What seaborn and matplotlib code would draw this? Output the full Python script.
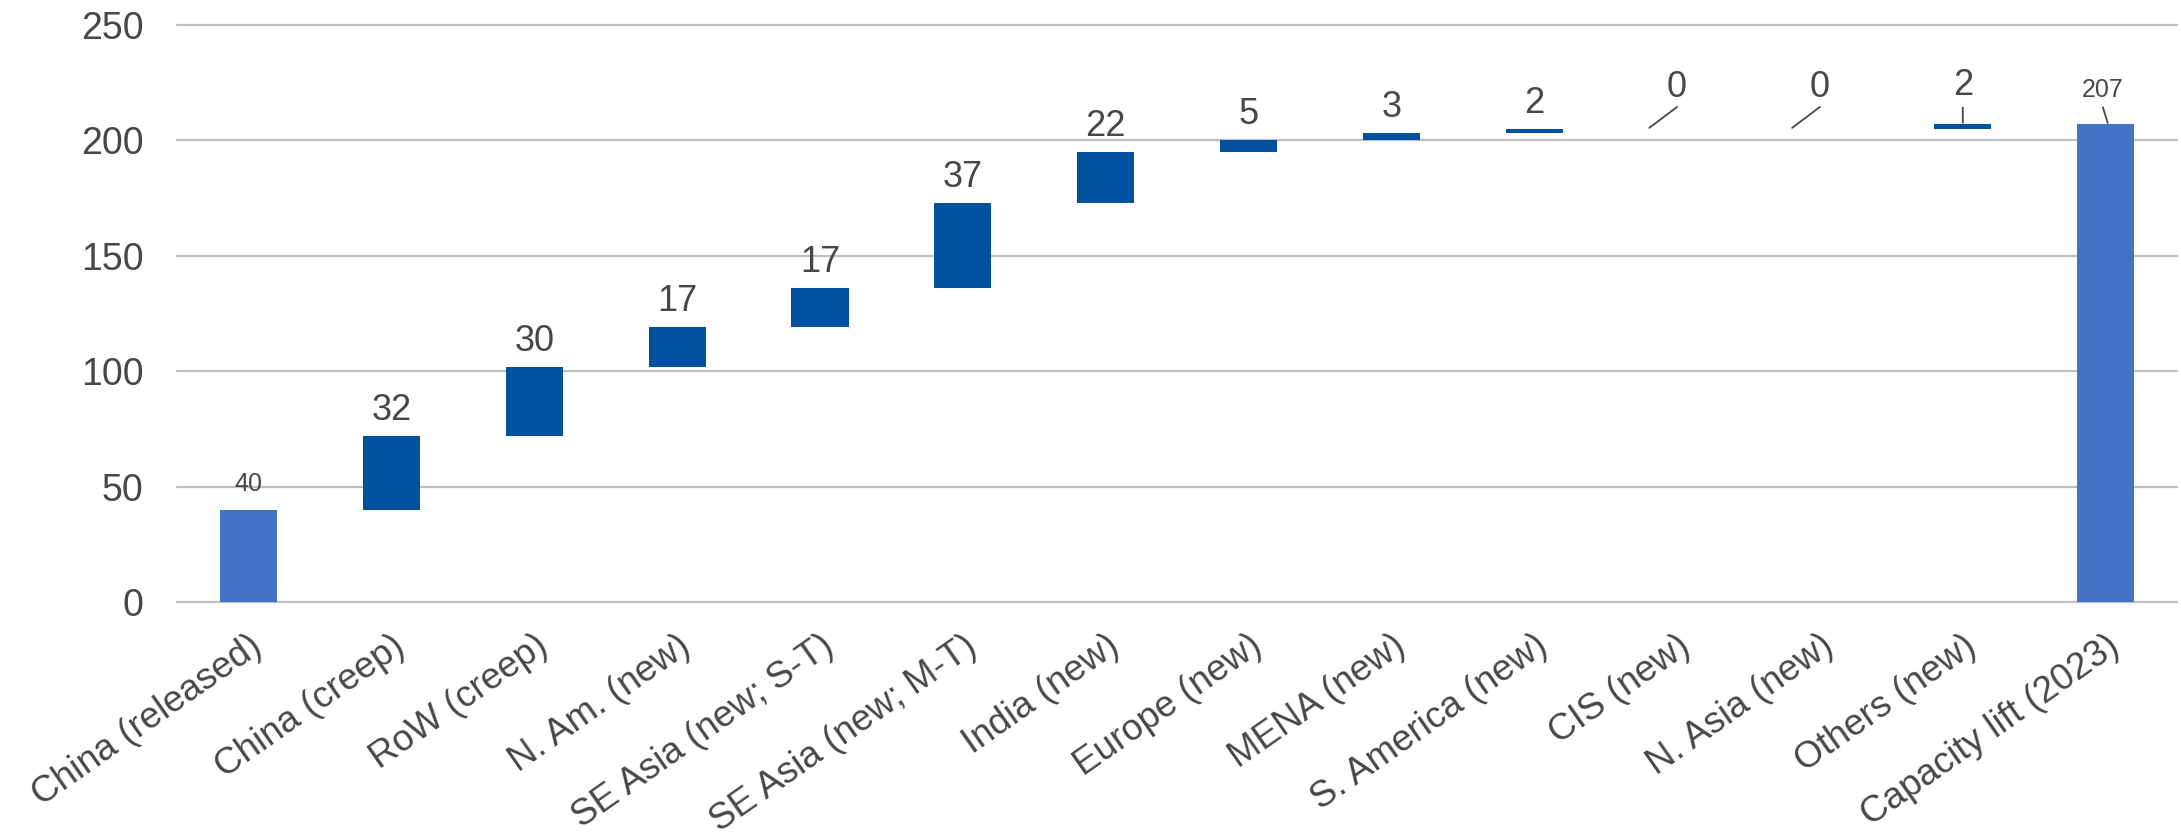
import matplotlib
matplotlib.use("Agg")
import matplotlib.pyplot as plt
from matplotlib.transforms import offset_copy
import numpy as np
import pandas as pd
import seaborn as sns

# Capacity build-up by source (waterfall)
categories = ["China (released)", "China (creep)", "RoW (creep)", "N. Am. (new)",
              "SE Asia (new; S-T)", "SE Asia (new; M-T)", "India (new)", "Europe (new)",
              "MENA (new)", "S. America (new)", "CIS (new)", "N. Asia (new)",
              "Others (new)", "Capacity lift (2023)"]
changes = [40, 32, 30, 17, 17, 37, 22, 5, 3, 2, 0, 0, 2, 207]
kinds = ["total"] + ["step"] * 12 + ["total"]
y_ticks = [0, 50, 100, 150, 200, 250]

TOTAL_COLOR = "#4472C4"
STEP_COLOR = "#0052A0"
TEXT_COLOR = "#474747"
GRID_COLOR = "#BFBFBF"

# floating bar bases: totals start at zero, steps start at the running sum
bases = []
running = 0
for v, k in zip(changes, kinds):
    if k == "total":
        bases.append(0)
        running = v
    else:
        bases.append(running)
        running += v
tops = [b + v for b, v in zip(bases, changes)]

sns.set_theme(style="white")
plt.rcParams["font.family"] = ["Liberation Sans", "DejaVu Sans"]

fig = plt.figure(figsize=(21.81, 8.33), dpi=100)
ax = fig.add_axes([0.0812, 0.2773, 0.917, 0.6927])

df = pd.DataFrame({"category": categories, "change": changes, "base": bases})
sns.barplot(data=df, x="category", y="change", order=categories,
            bottom=np.array(bases, dtype=float), color=STEP_COLOR, saturation=1,
            width=0.4, errorbar=None, linewidth=0, ax=ax, zorder=3)
for patch, k in zip(ax.patches, kinds):
    if k == "total":
        patch.set_facecolor(TOTAL_COLOR)

ax.set_xlim(-0.5, len(categories) - 0.5)
ax.set_ylim(0, 250)
ax.set_yticks(y_ticks)
for t in y_ticks:
    ax.axhline(t, color=GRID_COLOR, linewidth=1.6, zorder=1, clip_on=False)
for s in ax.spines.values():
    s.set_visible(False)

ax.set_xlabel("")
ax.set_ylabel("")
ax.tick_params(axis="y", length=0, pad=24, labelsize=27, labelcolor=TEXT_COLOR)
ax.tick_params(axis="x", length=0, pad=19, labelsize=26.5, labelcolor=TEXT_COLOR)
ax.set_xticks(range(len(categories)))
ax.set_xticklabels(categories, rotation=35, ha="right", rotation_mode="anchor")


def at(x, y, dx, dy):
    """Data point shifted by (dx, dy) points."""
    return offset_copy(ax.transData, fig=fig, x=dx, y=dy, units="points")


def leader(i, top, start, end):
    ax.annotate("", xy=(i, top), xycoords=at(i, top, *start),
                xytext=(i, top), textcoords=at(i, top, *end),
                arrowprops=dict(arrowstyle="-", color=TEXT_COLOR, lw=1.3,
                                shrinkA=0, shrinkB=0))


STEP_FS = 26
TOTAL_FS = 18
for i, (v, top, k) in enumerate(zip(changes, tops, kinds)):
    if k == "total" and i == 0:
        ax.annotate(str(v), xy=(i, top), xytext=(0, 13.5), textcoords="offset points",
                    ha="center", va="baseline", fontsize=TOTAL_FS, color=TEXT_COLOR)
    elif k == "total":
        ax.annotate(str(v), xy=(i, top), xytext=(-2, 19.5), textcoords="offset points",
                    ha="center", va="baseline", fontsize=TOTAL_FS, color=TEXT_COLOR)
        leader(i, top, (1.5, 0.9), (-2, 12.2))
    elif v == 0:
        ax.annotate(str(v), xy=(i, top), xytext=(0, 23), textcoords="offset points",
                    ha="center", va="baseline", fontsize=STEP_FS, color=TEXT_COLOR)
        leader(i, top, (-20, 0.7), (0, 15.8))
    elif categories[i].startswith("Others"):
        ax.annotate(str(v), xy=(i, top), xytext=(0, 21.3), textcoords="offset points",
                    ha="center", va="baseline", fontsize=STEP_FS, color=TEXT_COLOR)
        leader(i, top, (0, 1.1), (0, 12))
    else:
        ax.annotate(str(v), xy=(i, top), xytext=(0, 11.5), textcoords="offset points",
                    ha="center", va="baseline", fontsize=STEP_FS, color=TEXT_COLOR)

fig.savefig("out.png", dpi=100, facecolor="white")
